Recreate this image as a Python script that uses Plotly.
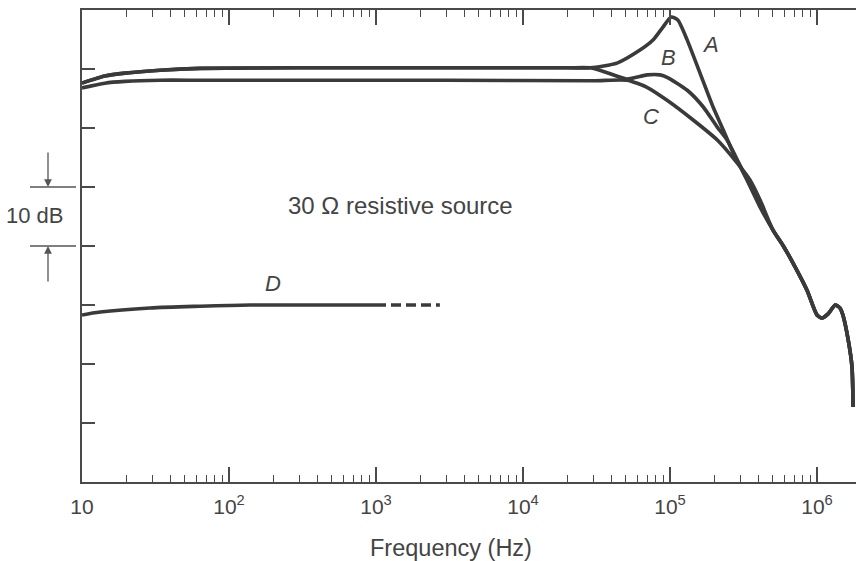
import math
import plotly.graph_objects as go

# ---------------- data (frequency in Hz, level in dB on an arbitrary 0-80 scale)
freq_a = [10, 14.3, 19.6, 34, 63.5, 300, 3000, 20000, 28600, 43600, 62500, 76600,
          89500, 102000, 113000, 131000, 160000, 196000, 230000, 269000, 334000, 410000]
level_a = [67.6, 68.8, 69.3, 69.8, 70.1, 70.2, 70.2, 70.2, 70.2, 71.0, 73.2, 74.9,
           77.1, 78.8, 78.3, 74.9, 69.3, 63.6, 59.7, 55.8, 51.2, 46.6]

freq_b = [10, 14.3, 19.6, 34, 63.5, 300, 3000, 20000, 28600, 36100, 50900, 69800,
          85500, 95500, 131000, 168000, 209000, 244000, 299000, 379000]
level_b = [67.6, 68.8, 69.3, 69.8, 70.1, 70.2, 70.2, 70.2, 70.2, 69.5, 68.3, 69.0,
           69.0, 68.6, 66.4, 63.6, 60.2, 58.0, 53.7, 48.6]

freq_c = [10, 14.3, 19.6, 34, 63.5, 300, 3000, 30000, 50900, 69800, 95500,
          143000, 209000, 286000, 350000, 410000]
level_c = [66.8, 67.6, 67.9, 68.1, 68.1, 68.1, 68.1, 68.0, 68.1, 66.9, 64.7,
           61.4, 58.0, 54.1, 51.2, 47.8]

# common high-frequency tail of A, B and C
freq_tail = [502000, 590000, 687000, 855000, 1000000, 1080000, 1190000, 1330000, 1430000,
             1500000, 1630000, 1730000, 1760000]
level_tail = [42.7, 40.0, 37.1, 32.5, 28.3, 27.8, 28.5, 30.0, 29.5, 28.3, 24.1, 19.5, 12.7]

freq_d = [10, 13.3, 29, 63.5, 139, 400, 1000]
level_d = [28.3, 28.8, 29.5, 29.8, 30.0, 30.0, 30.0]
freq_d_dash = [1000, 2720]
level_d_dash = [30.0, 30.0]

major_ticks = [10, 100, 1000, 10000, 100000, 1000000]
major_labels = ["10", "10<sup>2</sup>", "10<sup>3</sup>", "10<sup>4</sup>",
                "10<sup>5</sup>", "10<sup>6</sup>"]
minor_ticks = [m * d for d in [10, 100, 1000, 10000, 100000, 1000000]
               for m in range(2, 10) if m * d < 1.8e6]
y_ticks = [10, 20, 30, 40, 50, 60, 70]

curve_labels = [("A", 190000, 74.2), ("B", 97000, 71.9), ("C", 74000, 62.0), ("D", 199, 33.6)]

# ---------------- figure
LINE = "#3a3a3a"
TXT = "#444444"
FONT = "Liberation Sans, Arial, Helvetica, sans-serif"

fig = go.Figure()
for fx, fy in [(freq_a, level_a), (freq_b, level_b), (freq_c, level_c)]:
    fig.add_trace(go.Scatter(x=fx + freq_tail, y=fy + level_tail, mode="lines",
                             line=dict(color=LINE, width=3.6, shape="spline", smoothing=0.6),
                             hoverinfo="skip", showlegend=False))
fig.add_trace(go.Scatter(x=freq_d, y=level_d, mode="lines",
                         line=dict(color=LINE, width=3.6, shape="spline", smoothing=0.8),
                         showlegend=False))
fig.add_trace(go.Scatter(x=freq_d_dash, y=level_d_dash, mode="lines",
                         line=dict(color=LINE, width=3.6, dash="10px,5px"),
                         showlegend=False))

x_max = 1 + (856 - 82) / 147.0

fig.update_layout(
    width=856, height=561,
    margin=dict(l=82, r=0, t=10, b=79),
    paper_bgcolor="white", plot_bgcolor="white",
    font=dict(family=FONT, color=TXT),
    xaxis=dict(type="log", range=[1, x_max], showgrid=False, zeroline=False,
               showline=True, linecolor="#4a4a4a", linewidth=2, mirror="allticks",
               ticks="inside", ticklen=15, tickwidth=1.5, tickcolor="#4a4a4a",
               tickvals=major_ticks, ticktext=major_labels,
               tickfont=dict(size=21, color=TXT, family=FONT), ticklabelstandoff=5,
               minor=dict(ticks="inside", ticklen=7, tickwidth=1.3, tickcolor="#4a4a4a",
                          tickvals=minor_ticks, showgrid=False)),
    yaxis=dict(range=[0, 80], showgrid=False, zeroline=False, showline=True,
               linecolor="#4a4a4a", linewidth=2, ticks="inside", ticklen=13,
               tickwidth=1.5, tickcolor="#4a4a4a", tickvals=y_ticks,
               showticklabels=False),
    yaxis2=dict(range=[0, 80], overlaying="y", side="right", anchor="x",
                showgrid=False, zeroline=False, showline=False, ticks="inside",
                ticklen=8, tickwidth=1.5, tickcolor="#4a4a4a", tickvals=y_ticks,
                showticklabels=False),
)

# curve labels
for txt, fx, fy in curve_labels:
    fig.add_annotation(x=math.log10(fx), y=fy, xref="x", yref="y", text="<i>%s</i>" % txt,
                       showarrow=False, xanchor="center", yanchor="middle",
                       font=dict(size=22, color=TXT, family=FONT))

fig.add_annotation(x=(400 - 82) / 774, y=46.8, xref="paper", yref="y",
                   text="30 \u03a9 resistive source", showarrow=False,
                   xanchor="center", yanchor="middle",
                   font=dict(size=24, color=TXT, family=FONT))

fig.add_annotation(x=(451 - 82) / 774, y=(482 - 548) / 472, xref="paper", yref="paper",
                   text="Frequency (Hz)", showarrow=False, xanchor="center", yanchor="middle",
                   font=dict(size=23.5, color=TXT, family=FONT))

# 10 dB scale marker
px = lambda v: (v - 82) / 774.0
for lvl in [50, 40]:
    fig.add_shape(type="line", xref="paper", yref="y", x0=px(30), x1=px(76), y0=lvl, y1=lvl,
                  line=dict(color="#555555", width=1.3))
fig.add_annotation(x=px(48), y=50, xref="paper", yref="y", ax=0, ay=-36, text="",
                   showarrow=True, arrowhead=2, arrowsize=1.2, arrowwidth=1.3, arrowcolor="#555555")
fig.add_annotation(x=px(48), y=40, xref="paper", yref="y", ax=0, ay=37, text="",
                   showarrow=True, arrowhead=2, arrowsize=1.2, arrowwidth=1.3, arrowcolor="#555555")
fig.add_annotation(x=px(35), y=45.1, xref="paper", yref="y", text="10 dB", showarrow=False,
                   xanchor="center", yanchor="middle",
                   font=dict(size=22, color=TXT, family=FONT))

fig.write_html("out.html")
